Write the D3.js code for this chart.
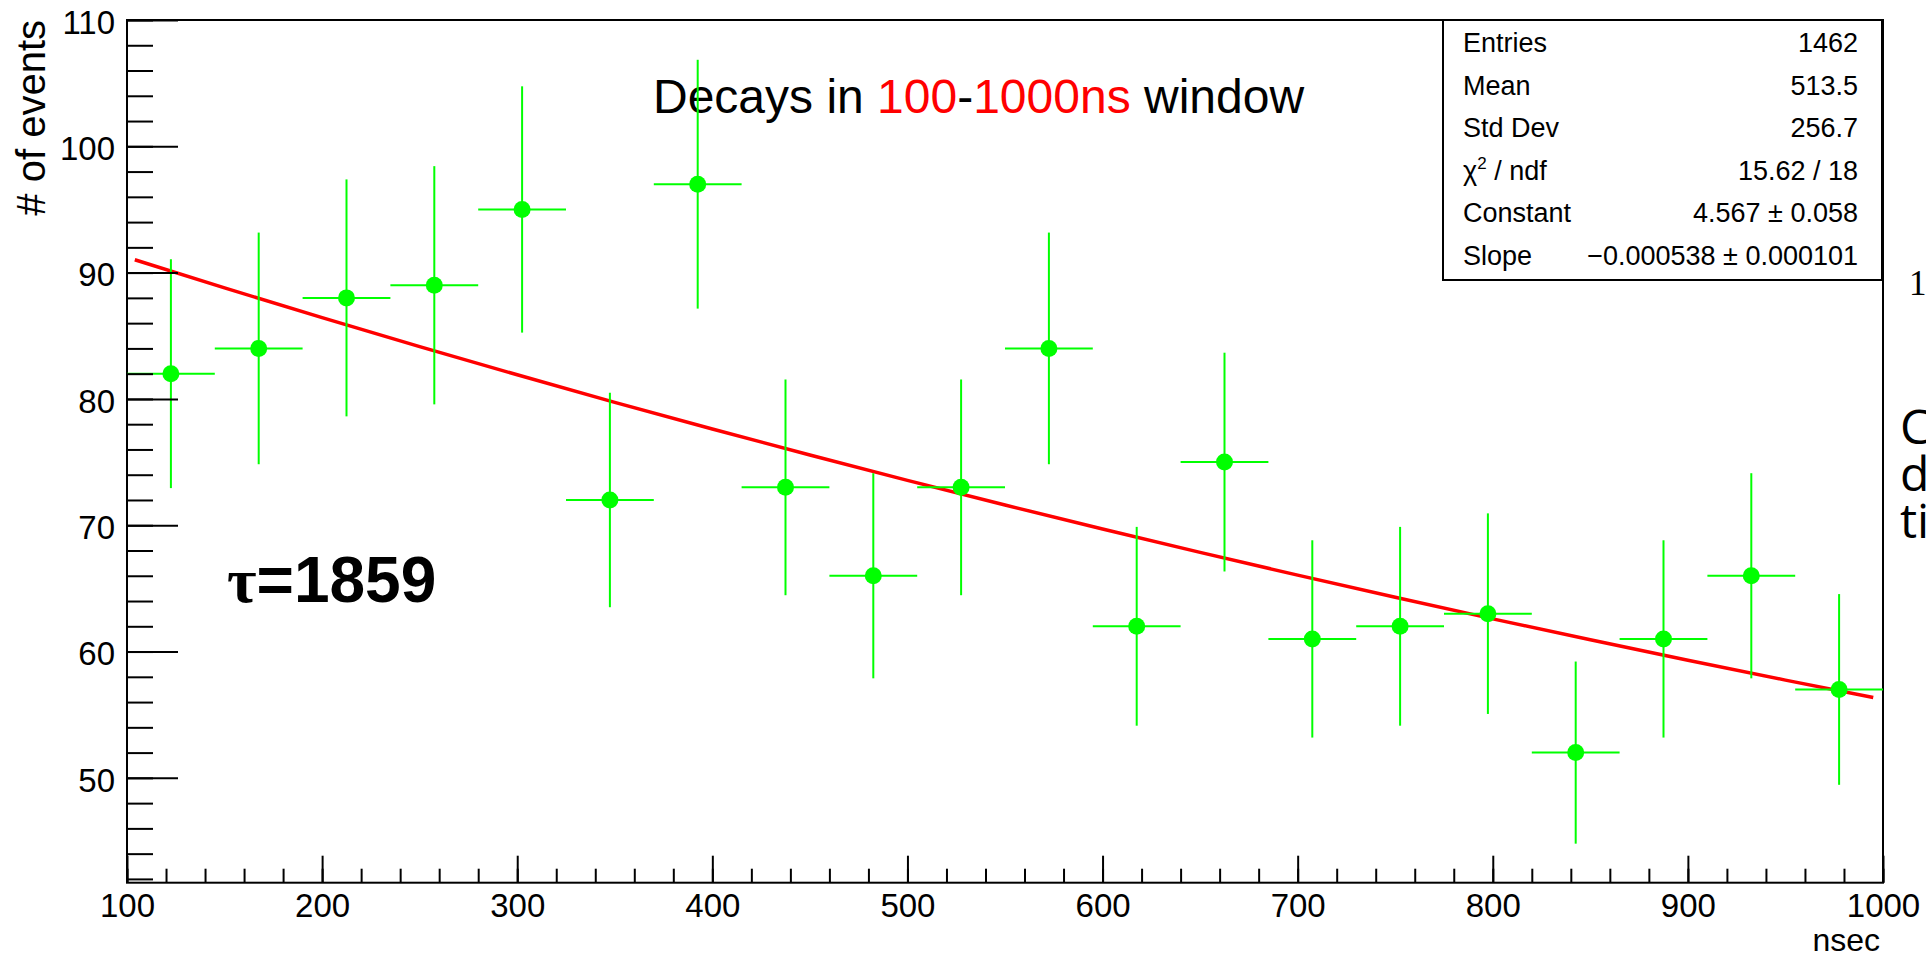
<!DOCTYPE html>
<html>
<head>
<meta charset="utf-8">
<script src="https://cdn.jsdelivr.net/npm/d3@7"></script>
<style>
body { margin: 0; background: #fff; overflow: hidden; }
svg { display: block; font-family: "Liberation Sans", Arial, Helvetica, sans-serif; }
</style>
</head>
<body>
<svg width="1926" height="957"></svg>
<script>
// histogram bins (nsec) and counts
const binCenters = [122.5, 167.5, 212.5, 257.5, 302.5, 347.5, 392.5, 437.5, 482.5, 527.5,
                    572.5, 617.5, 662.5, 707.5, 752.5, 797.5, 842.5, 887.5, 932.5, 977.5];
const binWidth = 45;
const counts = [82, 84, 88, 89, 95, 72, 97, 73, 66, 73, 84, 62, 75, 61, 62, 63, 52, 61, 66, 57];
const errors = [9.06, 9.17, 9.38, 9.43, 9.75, 8.49, 9.85, 8.54, 8.12, 8.54,
                9.17, 7.87, 8.66, 7.81, 7.87, 7.94, 7.21, 7.81, 8.12, 7.55];

// fitted exponential
const fitX = [104, 150, 200, 250, 300, 350, 400, 450, 500, 550, 600, 650, 700, 750, 800, 850, 900, 950, 995];
const fitY = [91.02, 88.79, 86.44, 84.14, 81.91, 79.73, 77.62, 75.56, 73.55, 71.60,
              69.70, 67.85, 66.05, 64.30, 62.59, 60.93, 59.31, 57.74, 56.36];

const xTicks = [100, 200, 300, 400, 500, 600, 700, 800, 900, 1000];
const yTicks = [50, 60, 70, 80, 90, 100, 110];

const statLabels = ["Entries", "Mean", "Std Dev", "chi", "Constant", "Slope"];
const statValues = ["1462", "513.5", "256.7", "15.62 / 18", "4.567 \u00b1 0.058", "\u22120.000538 \u00b1 0.000101"];

const padL = 127, padR = 1883, padT = 20, padB = 882.7;

const svg = d3.select("svg");

const x = d3.scaleLinear().domain([100, 1000]).range([padL, padR]);
const y = d3.scaleLinear().domain([41.7, 110]).range([padB, padT]);

// frame
svg.append("rect")
    .attr("x", padL).attr("y", padT)
    .attr("width", padR - padL).attr("height", padB - padT)
    .attr("fill", "none").attr("stroke", "#000").attr("stroke-width", 2);

// texts inside the pad
const title = svg.append("text")
    .attr("x", 653).attr("y", 113)
    .attr("font-size", 48);
title.append("tspan").attr("fill", "#000").text("Decays in ");
title.append("tspan").attr("fill", "#ff0000").text("100");
title.append("tspan").attr("fill", "#000").text("-");
title.append("tspan").attr("fill", "#ff0000").text("1000ns");
title.append("tspan").attr("fill", "#000").text(" window");

const tau = svg.append("text")
    .attr("x", 227).attr("y", 602)
    .attr("font-size", 64).attr("font-weight", "bold");
tau.append("tspan").attr("font-family", "Liberation Serif, serif").text("\u03c4");
tau.append("tspan").text("=1859");

// fit curve
const line = d3.line()
    .x((d, i) => x(fitX[i]))
    .y(d => y(d));

svg.append("path")
    .datum(fitY)
    .attr("d", line)
    .attr("fill", "none")
    .attr("stroke", "#ff0000")
    .attr("stroke-width", 3.5);

// data points with error bars
const pts = svg.append("g")
    .selectAll("g")
    .data(counts)
    .join("g");

pts.append("line")
    .attr("x1", (d, i) => x(binCenters[i] - binWidth / 2))
    .attr("x2", (d, i) => x(binCenters[i] + binWidth / 2))
    .attr("y1", d => y(d)).attr("y2", d => y(d))
    .attr("stroke", "#00ff00").attr("stroke-width", 2);

pts.append("line")
    .attr("x1", (d, i) => x(binCenters[i]))
    .attr("x2", (d, i) => x(binCenters[i]))
    .attr("y1", (d, i) => y(d - errors[i]))
    .attr("y2", (d, i) => y(d + errors[i]))
    .attr("stroke", "#00ff00").attr("stroke-width", 2);

pts.append("circle")
    .attr("cx", (d, i) => x(binCenters[i]))
    .attr("cy", d => y(d))
    .attr("r", 8.5)
    .attr("fill", "#00ff00");

// axes, ticks pointing into the frame
function styleAxis(g) {
    g.select(".domain").remove();
    g.selectAll(".tick line").attr("stroke", "#000").attr("stroke-width", 2);
    g.selectAll(".tick text").attr("fill", "#000")
        .attr("font-family", "Liberation Sans, Arial, sans-serif")
        .attr("font-size", 33);
}

svg.append("g")
    .attr("transform", `translate(${padL},0)`)
    .call(d3.axisLeft(y).tickValues(d3.range(42, 111, 2)).tickSizeInner(-26).tickSizeOuter(0).tickFormat(""))
    .call(styleAxis);

svg.append("g")
    .attr("transform", `translate(${padL},0)`)
    .call(d3.axisLeft(y).tickValues(yTicks).tickSizeInner(-51).tickSizeOuter(0).tickPadding(12).tickFormat(d3.format("d")))
    .call(styleAxis)
    .selectAll(".tick text").attr("dy", "0.4em");

svg.append("g")
    .attr("transform", `translate(0,${padB})`)
    .call(d3.axisBottom(x).tickValues(d3.range(100, 1001, 20)).tickSizeInner(-14).tickSizeOuter(0).tickFormat(""))
    .call(styleAxis);

svg.append("g")
    .attr("transform", `translate(0,${padB})`)
    .call(d3.axisBottom(x).tickValues(xTicks).tickSizeInner(-27).tickSizeOuter(0).tickPadding(11).tickFormat(d3.format("d")))
    .call(styleAxis);

// axis titles
svg.append("text")
    .attr("transform", "translate(45,20) rotate(-90)")
    .attr("text-anchor", "end")
    .attr("font-size", 40)
    .text("# of events");

svg.append("text")
    .attr("x", 1880).attr("y", 951)
    .attr("text-anchor", "end")
    .attr("font-size", 32)
    .text("nsec");

// stats box
const stats = svg.append("g");
stats.append("rect")
    .attr("x", 1443).attr("y", 20)
    .attr("width", 439).attr("height", 260)
    .attr("fill", "#fff").attr("stroke", "#000").attr("stroke-width", 2);

const rowY = d3.scaleLinear().domain([0, 5]).range([52, 265]);

statLabels.forEach((lab, i) => {
    const t = stats.append("text")
        .attr("x", 1463).attr("y", rowY(i))
        .attr("font-size", 27);
    if (lab === "chi") {
        t.append("tspan").text("\u03c7");
        t.append("tspan").attr("font-size", 17).attr("dy", -11).text("2");
        t.append("tspan").attr("dy", 11).text(" / ndf");
    } else {
        t.text(lab);
    }
    stats.append("text")
        .attr("x", 1858).attr("y", rowY(i))
        .attr("text-anchor", "end")
        .attr("font-size", 27)
        .text(statValues[i]);
});

// text cut by the right border of the page
svg.append("text")
    .attr("x", 1909).attr("y", 295)
    .attr("font-family", "Liberation Serif, serif")
    .attr("font-size", 35)
    .text("1");

const side = svg.append("text")
    .attr("font-family", "Open Sans, sans-serif")
    .attr("font-size", 48);
["C", "d", "ti"].forEach((s, i) => {
    side.append("tspan").attr("x", 1900).attr("y", 444 + i * 47).text(s);
});
</script>
</body>
</html>
